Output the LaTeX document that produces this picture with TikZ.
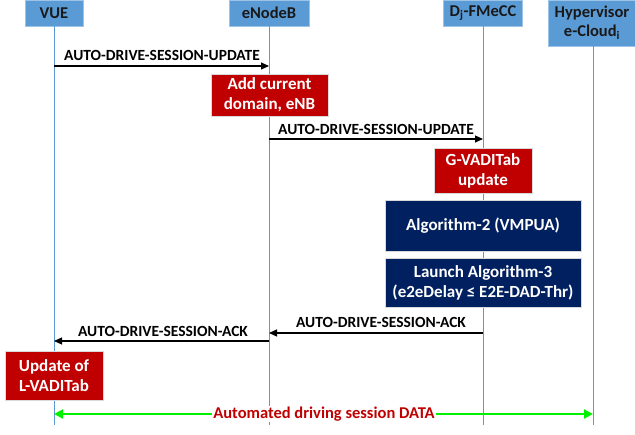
\documentclass[tikz,border=0pt]{standalone}
\usepackage{fontspec}
\setmainfont{Carlito}
\usetikzlibrary{arrows.meta}
\definecolor{hdrfill}{HTML}{5B9BD5}
\definecolor{hdrline}{HTML}{9DC3E6}
\definecolor{lifec}{HTML}{5B9BD5}
\definecolor{redbox}{HTML}{C00000}
\definecolor{navybox}{HTML}{002060}
\definecolor{greenarr}{HTML}{00F000}
\tikzset{
  hdr/.style={draw=hdrline, line width=0.8pt, fill=hdrfill, text=black!90, font=\bfseries\fontsize{16.5}{19}\selectfont, align=center, inner sep=0pt},
  life/.style={draw=lifec, line width=1pt},
  redact/.style={draw=black!15, line width=0.8pt, fill=redbox, text=white, font=\bfseries\fontsize{17}{20}\selectfont, align=center, inner sep=0pt},
  navyact/.style={draw=black!15, line width=0.8pt, fill=navybox, text=white, font=\bfseries\fontsize{17}{20}\selectfont, align=center, inner sep=0pt},
  msg/.style={draw=black, line width=1.1pt, -{Triangle[length=8pt,width=7pt]}},
  msglbl/.style={font=\bfseries\fontsize{15.5}{17}\selectfont, text=black, inner sep=0pt},
  dataarr/.style={draw=greenarr, line width=2pt, {Triangle[length=9pt,width=9pt]}-{Triangle[length=9pt,width=9pt]}},
  datalbl/.style={font=\bfseries\fontsize{16.5}{18}\selectfont, text=redbox, fill=white, inner sep=1pt}
}
\begin{document}
\begin{tikzpicture}[x=1pt,y=-1pt]
\useasboundingbox (0,0) rectangle (635,435);
% headers
\node[hdr, minimum width=58pt, minimum height=26pt] (vue) at (54,13) {VUE};
\node[hdr, minimum width=80pt, minimum height=26pt] (enb) at (269,13) {eNodeB};
\node[hdr, minimum width=79pt, minimum height=26pt] (fme) at (483,13) {D\textsubscript{j}-FMeCC};
\node[hdr, minimum width=88pt, minimum height=46pt, font=\bfseries\fontsize{16.5}{19}\selectfont] (hyp) at (592,23) {Hypervisor\\e-Cloud\textsubscript{i}};
% lifeline ends
\coordinate (vueE) at (54,425);
\coordinate (enbE) at (269,425);
\coordinate (fmeE) at (483,425);
\coordinate (hypE) at (593,425);
\draw[life] (vue.south) -- (vueE);
\draw[life] (enb.south) -- (enbE);
\draw[life] (fme.south) -- (fmeE);
\draw[life] (hyp.south -| hypE) -- (hypE);
% message 1
\coordinate (m1a) at (54,66);
\coordinate (m1b) at (269,66);
\draw[msg] (m1a) -- (m1b);
\node[msglbl] (l1) at (162,55) {AUTO-DRIVE-SESSION-UPDATE};
% action eNB
\node[redact, minimum width=117pt, minimum height=42pt] (add) at (269.5,95) {Add current\\domain, eNB};
% message 2
\coordinate (m2a) at (269,139);
\coordinate (m2b) at (483,139);
\draw[msg] (m2a) -- (m2b);
\node[msglbl] (l2) at (376,129) {AUTO-DRIVE-SESSION-UPDATE};
% G-VADITab
\node[redact, minimum width=98pt, minimum height=45pt] (gv) at (483,170.5) {G-VADITab\\update};
\node[navyact, minimum width=196pt, minimum height=51pt] (alg2) at (483,225.5) {Algorithm-2 (VMPUA)};
\node[navyact, minimum width=196pt, minimum height=49pt] (alg3) at (483,282.5) {Launch Algorithm-3\\(e2eDelay ≤ E2E-DAD-Thr)};
% ack 1
\coordinate (a1a) at (483,333);
\coordinate (a1b) at (269,333);
\draw[msg] (a1a) -- (a1b);
\node[msglbl] (l3) at (381,322) {AUTO-DRIVE-SESSION-ACK};
% ack 2
\coordinate (a2a) at (269,341);
\coordinate (a2b) at (54,341);
\draw[msg] (a2a) -- (a2b);
\node[msglbl] (l4) at (163,331) {AUTO-DRIVE-SESSION-ACK};
% L-VADITab
\node[redact, minimum width=98pt, minimum height=49pt] (lv) at (54,375.5) {Update of\\L-VADITab};
% data
\coordinate (d1) at (54,414);
\coordinate (d2) at (593,414);
\draw[dataarr] (d1) -- (d2);
\node[datalbl] (dl) at (324,414) {Automated driving session DATA};
\end{tikzpicture}
\end{document}
